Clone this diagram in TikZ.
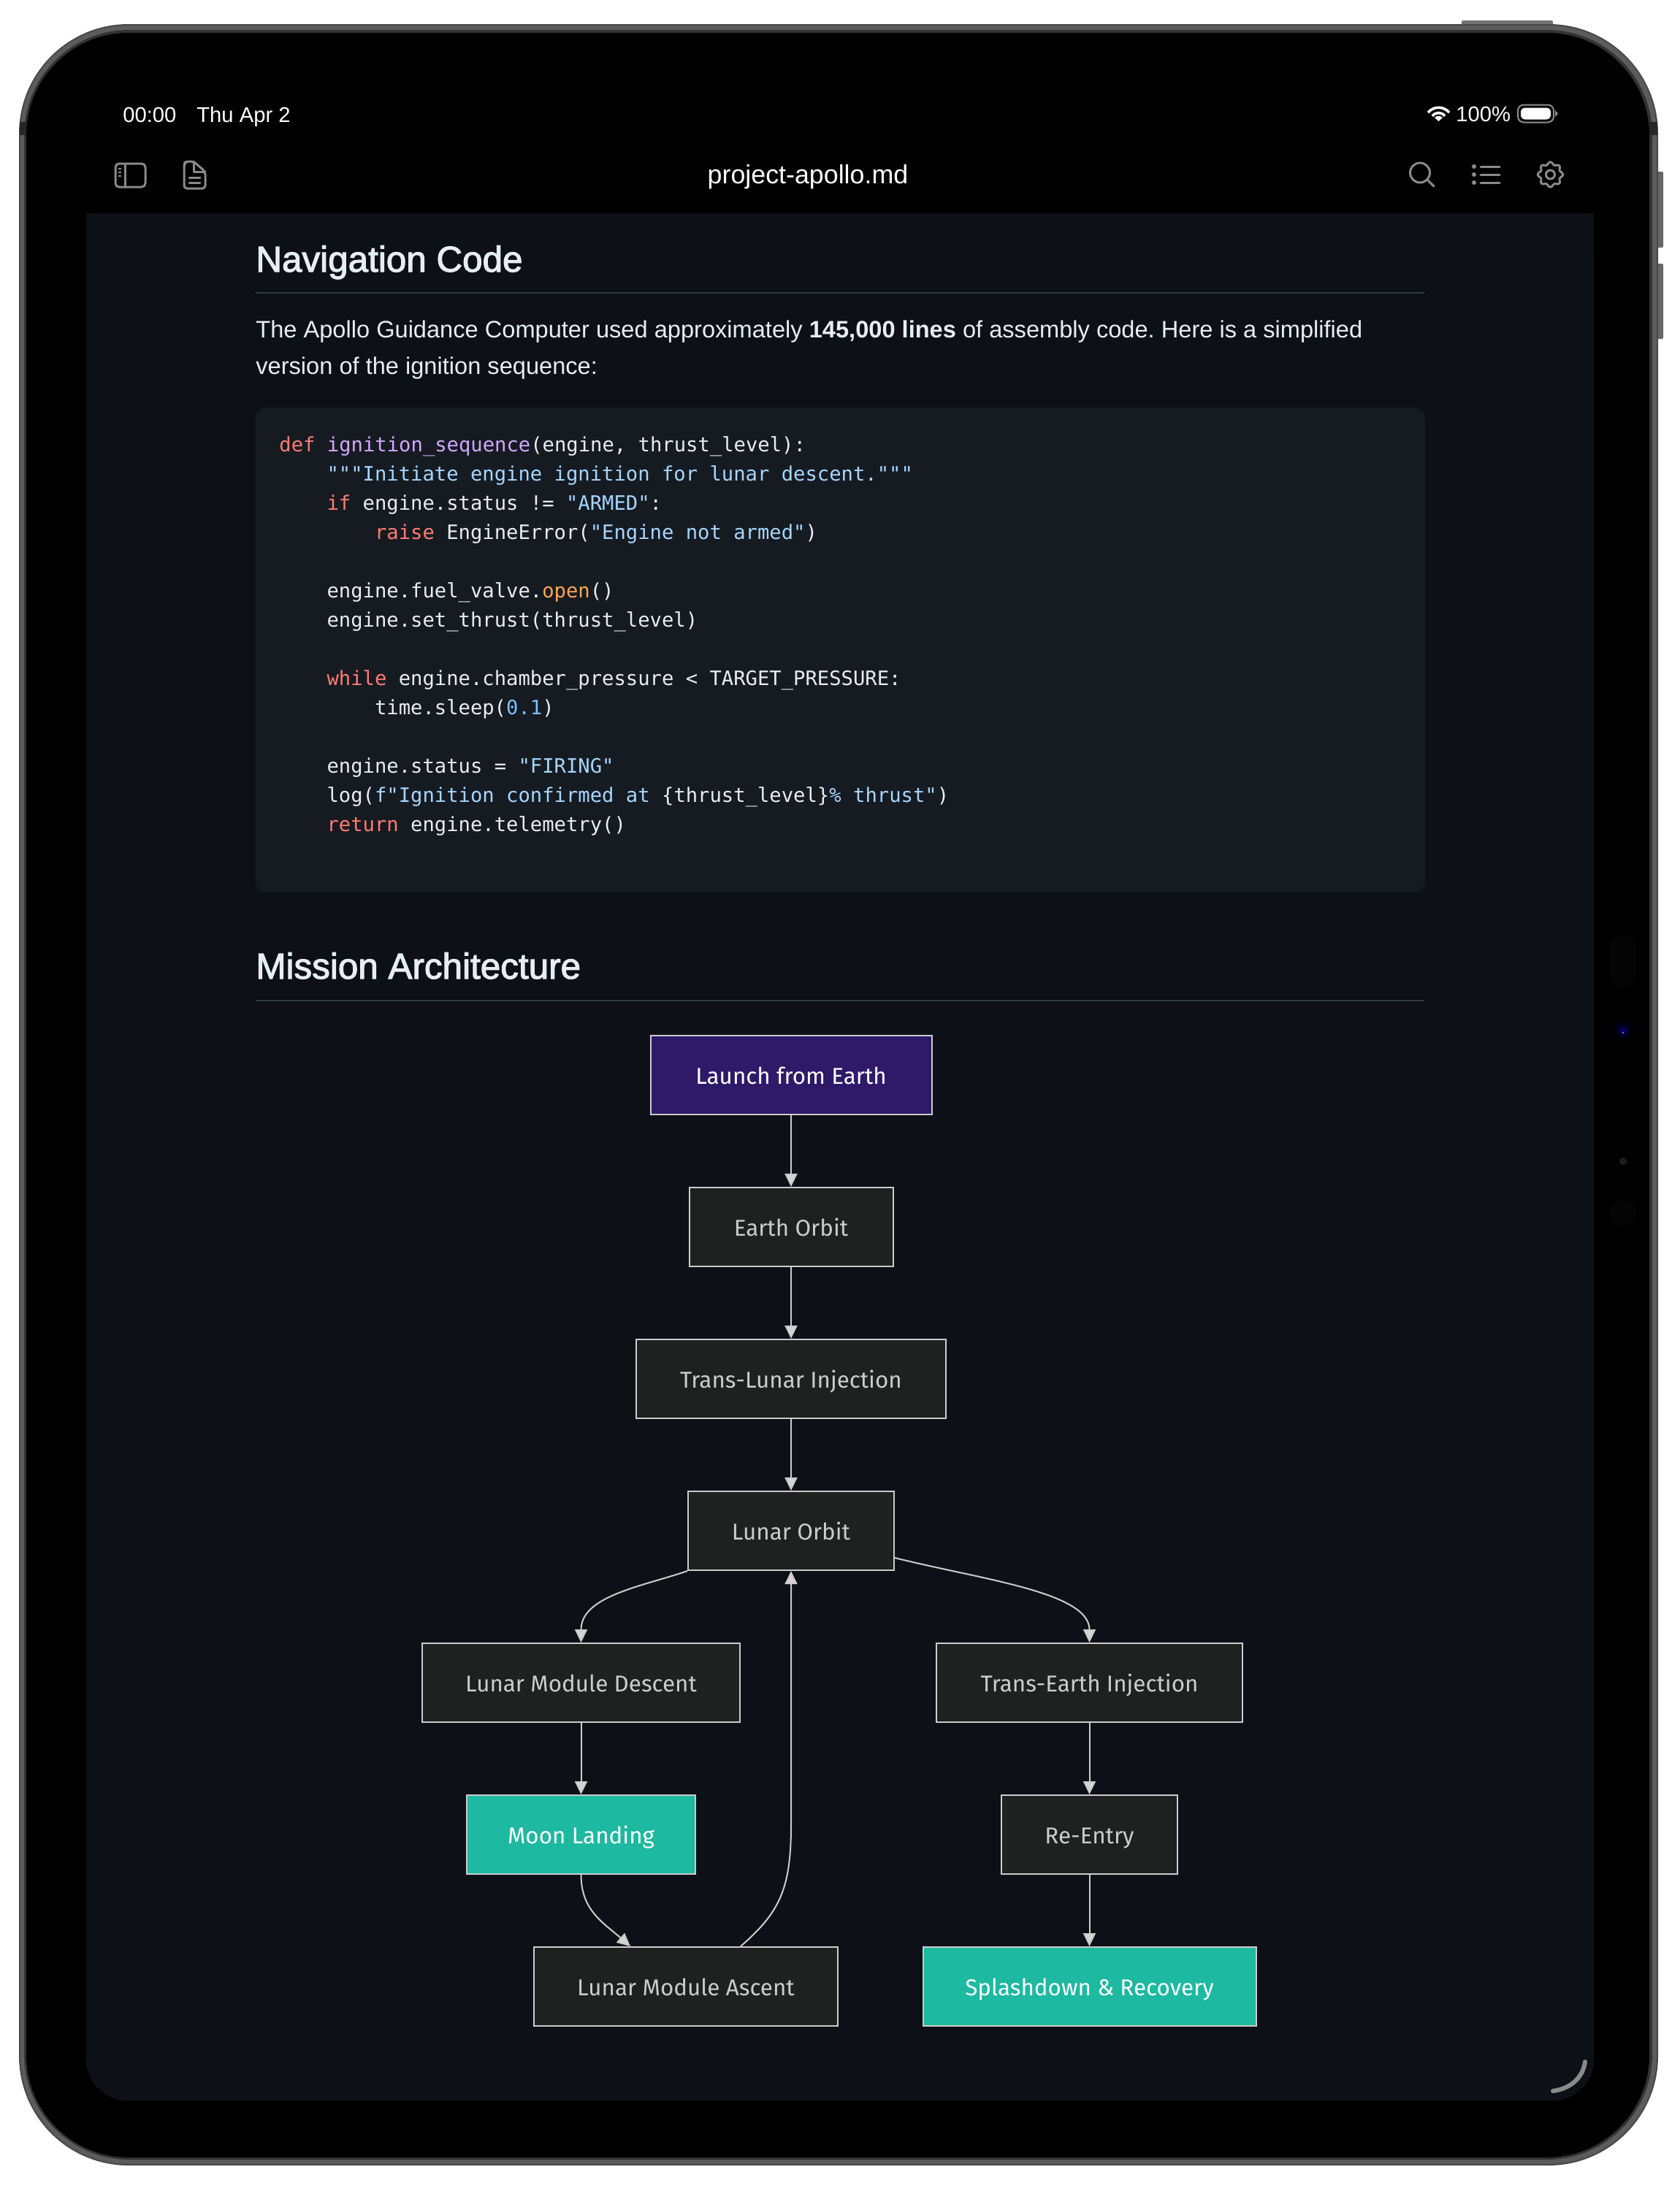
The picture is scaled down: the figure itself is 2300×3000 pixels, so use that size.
\documentclass[tikz,border=0pt]{standalone}
\usepackage{fontspec}
\setmainfont{Liberation Sans}
\newfontfamily\headfont[FakeBold=2.2]{Liberation Sans}
\newfontfamily\codefont[Ligatures=NoCommon]{DejaVu Sans Mono}
\newfontfamily\chartfont{Fira Sans}
\usetikzlibrary{arrows.meta}

\definecolor{pagebg}{HTML}{0D1117}
\definecolor{codebg}{HTML}{161B22}
\definecolor{rulecol}{HTML}{30363D}
\definecolor{bodycol}{HTML}{E6EDF3}
\definecolor{iconcol}{HTML}{8A8A8A}
\definecolor{kwcol}{HTML}{FF7B72}
\definecolor{fncol}{HTML}{D2A8FF}
\definecolor{strcol}{HTML}{A5D6FF}
\definecolor{numcol}{HTML}{79C0FF}
\definecolor{attrcol}{HTML}{FFA657}
\definecolor{nodefill}{HTML}{1F2020}
\definecolor{nodeline}{HTML}{CCCCCC}
\definecolor{tipcol}{HTML}{D4D4D4}
\definecolor{launchfill}{HTML}{2E1A68}
\definecolor{landfill}{HTML}{1DB9A0}

\newcommand{\kw}[1]{\textcolor{kwcol}{#1}}
\newcommand{\fn}[1]{\textcolor{fncol}{#1}}
\newcommand{\str}[1]{\textcolor{strcol}{#1}}
\newcommand{\num}[1]{\textcolor{numcol}{#1}}
\newcommand{\attr}[1]{\textcolor{attrcol}{#1}}

\tikzset{
  statustxt/.style={anchor=base west, inner sep=0pt, text=white, font=\fontsize{14.6}{17}\selectfont},
  headtxt/.style={anchor=base west, inner sep=0pt, text=bodycol, font=\headfont\fontsize{24.7}{29}\selectfont},
  bodytxt/.style={anchor=base west, inner sep=0pt, text=bodycol, font=\fontsize{16.3}{19}\selectfont\frenchspacing},
  codetxt/.style={anchor=base west, inner sep=0pt, text=bodycol, font=\codefont\fontsize{13.6}{16}\selectfont\frenchspacing},
  chartbox/.style={draw=nodeline, line width=1pt, fill=nodefill, text=nodeline, minimum height=54pt,
    inner sep=0pt, text height=12pt, text depth=0pt, font=\chartfont\fontsize{15.7}{18}\selectfont},
  launchbox/.style={chartbox, fill=launchfill, text=white},
  landbox/.style={chartbox, fill=landfill, text=white},
  flow/.style={draw=nodeline, line width=1pt, -{Triangle[length=9pt,width=8.5pt,fill=tipcol]}},
  iconline/.style={draw=iconcol, line width=1.5pt, line cap=round, line join=round},
}

\begin{document}
\begin{tikzpicture}[x=0.5pt, y=-0.5pt]
  % Page
  \fill[white] (0,0) rectangle (2300,3000);
  \useasboundingbox (0,0) rectangle (2300,3000);

  % Buttons
  \fill[black!55, rounded corners=1pt] (2001,28) rectangle (2126,40);
  \fill[black!60, rounded corners=1pt] (2262,235) rectangle (2277,339);
  \fill[black!60, rounded corners=1pt] (2262,361) rectangle (2277,464);

  % Bezel
  \fill[black!72, rounded corners=75pt] (26,33) rectangle (2270,2965);
  \fill[black!64, rounded corners=74pt] (28,35) rectangle (2268,2963);
  \fill[black!80, rounded corners=72pt] (33,41) rectangle (2262,2957);
  \fill[black, rounded corners=70pt] (36,45) rectangle (2258,2954);
  \fill[black!85] (27,167) rectangle (36,185);
  \fill[black!85] (2258,167) rectangle (2269,185);

  % Sensors
  \fill[black!98!white, rounded corners=9pt] (2204,1281) rectangle (2240,1352);
  \fill[black!95!blue] (2222,1411) circle (14);
  \fill[blue!18!black] (2222,1411) circle (8);
  \fill[blue!40!black] (2222,1411) circle (4);
  \fill[violet!70!white] (2222,1414) circle (1.5);
  \fill[black!88!white] (2222,1590) circle (5);
  \fill[black!98!white] (2222,1661) circle (18);

  % Screen
  \fill[pagebg, rounded corners=28pt] (118,292) rectangle (2182,2876);
  \fill[pagebg] (118,292) rectangle (2182,400);

  % Status bar
  \node[statustxt] (clock) at (168,167) {00:00};
  \node[statustxt] (date) at (269,167) {Thu Apr 2};
  \node[statustxt] (level) at (1993,166) {100\%};
  \draw[white, line width=1.8pt] (1955,154) .. controls (1963,145) and (1976,145) .. (1984,154);
  \draw[white, line width=1.8pt] (1961,159) .. controls (1965,153) and (1974,153) .. (1978,159);
  \fill[white] (1969.5,166) -- (1964,161) .. controls (1967,158) and (1972,158) .. (1975,161) -- cycle;
  \draw[black!45, line width=1pt, rounded corners=4pt] (2078,143.5) rectangle (2127,167.5);
  \fill[white, rounded corners=3pt] (2082,147.5) rectangle (2123,163.5);
  \fill[black!45] (2129,151) -- (2133,155.5) -- (2129,160) -- cycle;

  % Toolbar
  \draw[iconline, rounded corners=2.5pt] (158,224) rectangle (199,256);
  \draw[iconline] (171,224) -- (171,256);
  \foreach \y in {231,236,241} \draw[iconcol, line width=1pt] (162,\y) -- (166,\y);
  \draw[iconline, rounded corners=2pt] (265,221) -- (255,221) -- (252,224) -- (252,258) -- (281,258) -- (281,235) -- cycle;
  \draw[iconline] (265,221) -- (265,235) -- (281,235);
  \draw[iconline] (259,243) -- (274,243);
  \draw[iconline] (259,250) -- (274,250);
  \node[anchor=base, inner sep=0pt, text=white, font=\fontsize{17.9}{21}\selectfont] (docname) at (1106,251) {project-apollo.md};
  \draw[iconline] (1944,236.5) circle (13.5);
  \draw[iconline] (1954,246) -- (1963,255);
  \foreach \y in {228,239,250} {
    \fill[iconcol] (2018,\y) circle (3);
    \draw[iconline] (2027,\y) -- (2053,\y);
  }
  \draw[iconline] plot[smooth cycle, samples=48, domain=0:352.5] ({2122.5+(15.5+1.8*cos(8*\x))*cos(\x)},{239+(15.5+1.8*cos(8*\x))*sin(\x)});
  \draw[iconline] (2122.5,239) circle (6);

  % Navigation section
  \node[headtxt] (navhead) at (350,372) {Navigation Code};
  \draw[rulecol, line width=1pt] (350,401) -- (1950,401);
  \node[bodytxt] (para1) at (350,462) {The Apollo Guidance Computer used approximately \textbf{145,000 lines} of assembly code. Here is a simplified};
  \node[bodytxt] (para2) at (350,512) {version of the ignition sequence:};

  % Code block
  \fill[codebg, rounded corners=8pt] (350,558) rectangle (1951,1222);
  \def\indA{447.2}
  \def\indB{512.6}
  \node[codetxt] at (382,618) {\kw{def} \fn{ignition\_sequence}(engine, thrust\_level):};
  \node[codetxt] at (\indA,658) {\str{"""Initiate engine ignition for lunar descent."""}};
  \node[codetxt] at (\indA,698) {\kw{if} engine.status != \str{"ARMED"}:};
  \node[codetxt] at (\indB,738) {\kw{raise} EngineError(\str{"Engine not armed"})};
  \node[codetxt] at (\indA,818) {engine.fuel\_valve.\attr{open}()};
  \node[codetxt] at (\indA,858) {engine.set\_thrust(thrust\_level)};
  \node[codetxt] at (\indA,938) {\kw{while} engine.chamber\_pressure < TARGET\_PRESSURE:};
  \node[codetxt] at (\indB,978) {time.sleep(\num{0.1})};
  \node[codetxt] at (\indA,1058) {engine.status = \str{"FIRING"}};
  \node[codetxt] at (\indA,1098) {log(\str{f"Ignition confirmed at }\{thrust\_level\}\str{\% thrust"})};
  \node[codetxt] at (\indA,1138) {\kw{return} engine.telemetry()};

  % Architecture section
  \node[headtxt] (archhead) at (350,1340) {Mission Architecture};
  \draw[rulecol, line width=1pt] (350,1370) -- (1950,1370);

  % Flowchart
  \node[launchbox, minimum width=192.5pt] (launch) at (1083,1472) {Launch from Earth};
  \node[chartbox, minimum width=139.5pt] (earth) at (1083,1680) {Earth Orbit};
  \node[chartbox, minimum width=212pt] (tli) at (1083,1888) {Trans-Lunar Injection};
  \node[chartbox, minimum width=141pt] (orbit) at (1083,2096) {Lunar Orbit};
  \node[chartbox, minimum width=217.5pt] (descent) at (795.5,2304) {Lunar Module Descent};
  \node[chartbox, minimum width=209.5pt] (tei) at (1491.5,2304) {Trans-Earth Injection};
  \node[landbox, minimum width=156.5pt] (landing) at (795.5,2512) {Moon Landing};
  \node[chartbox, minimum width=120.5pt] (reentry) at (1491.5,2512) {Re-Entry};
  \node[chartbox, minimum width=208pt] (ascent) at (939,2720) {Lunar Module Ascent};
  \node[landbox, minimum width=228pt] (splash) at (1491.5,2720) {Splashdown \& Recovery};

  \draw[flow] (launch) -- (earth);
  \draw[flow] (earth) -- (tli);
  \draw[flow] (tli) -- (orbit);
  \draw[flow] (orbit.south west) .. controls (880,2172) and (795.5,2185) .. (descent.north);
  \draw[flow] ([yshift=9pt]orbit.south east) .. controls (1345,2163) and (1491.5,2180) .. (tei.north);
  \draw[flow] (descent) -- (landing);
  \draw[flow] (landing.south) .. controls (795.5,2615) and (825,2632) .. ([xshift=-38pt]ascent.north);
  \draw[flow] ([xshift=37.5pt]ascent.north) .. controls (1065,2620) and (1083,2590) .. (1083,2500) -- (orbit.south);
  \draw[flow] (tei) -- (reentry);
  \draw[flow] (reentry) -- (splash);

  % Home bar corner
  \draw[iconcol, line width=3pt, line cap=round] (2126,2863) .. controls (2150,2860) and (2167,2845) .. (2170,2823);
\end{tikzpicture}
\end{document}
